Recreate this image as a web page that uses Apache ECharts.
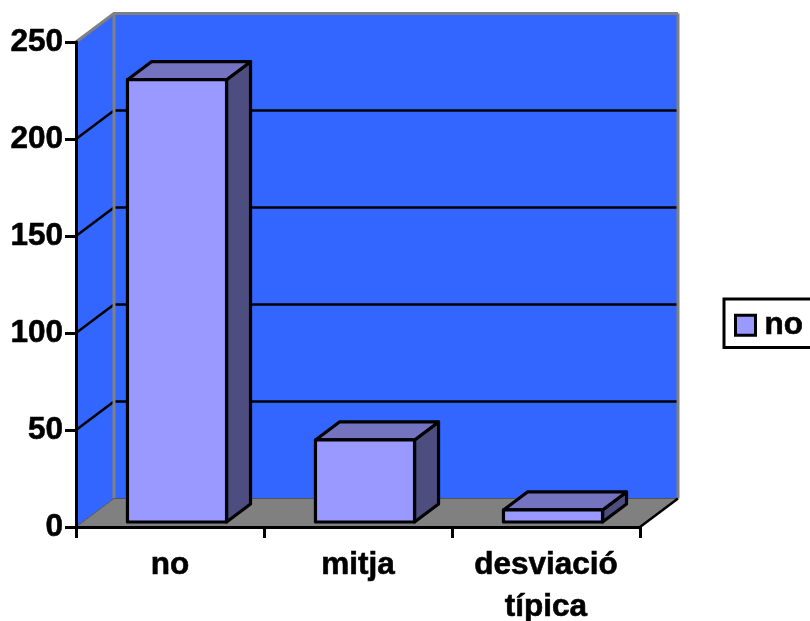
<!DOCTYPE html>
<html>
<head>
<meta charset="utf-8">
<style>html,body{margin:0;padding:0;background:#fff;overflow:hidden}#c{width:810px;height:621px}</style>
<script src="https://cdn.jsdelivr.net/npm/echarts@6/dist/echarts.min.js"></script>
</head>
<body>
<div id="c"></div>
<script>
const categories = ['no', 'mitja', 'desviació típica'];
const seriesName = 'no';
const values = [228, 42.3, 6.2];
const gridValues = [50, 100, 150, 200];
const axisMin = 0, axisMax = 250, axisStep = 50;

const DEPTH = [38, -28.5], BAR_FRONT = [7, -5], BAR_BACK = [31, -23], BAR_RATIO = 0.527;
const FONT = '"Liberation Sans", Arial, sans-serif';
const FS = 31.5;
const TEXT_EDGE = { textBorderColor: '#000', textBorderWidth: 0.6 };
const C = { wall: '#3366FF', floor: '#808080', edge: '#808080', front: '#9999FF', top: '#7373BF', side: '#4D4D80' };

const chart = echarts.init(document.getElementById('c'), null, { renderer: 'canvas' });
const line = (x1, y1, x2, y2, stroke, lineWidth) => ({
  type: 'line', shape: { x1, y1, x2, y2 }, style: { stroke, lineWidth, lineCap: 'butt' }, silent: true
});
const poly = (points, fill, stroke, lineWidth) => ({
  type: 'polygon', shape: { points }, style: { fill, stroke: stroke || null, lineWidth: lineWidth || 0, lineJoin: 'round' }, silent: true
});

function renderBackdrop(params, api) {
  const cs = params.coordSys;
  const x0 = cs.x, x1 = cs.x + cs.width;
  const yBottom = api.coord([0, axisMin])[1], yTop = api.coord([0, axisMax])[1];
  const [dx, dy] = DEPTH;
  const kids = [
    poly([[x0, yTop], [x0 + dx, yTop + dy], [x0 + dx, yBottom + dy], [x0, yBottom]], C.wall),
    poly([[x0 + dx, yTop + dy], [x1 + dx, yTop + dy], [x1 + dx, yBottom + dy], [x0 + dx, yBottom + dy]], C.wall),
    poly([[x0, yBottom], [x0 + dx, yBottom + dy], [x1 + dx, yBottom + dy], [x1, yBottom]], C.floor)
  ];
  gridValues.forEach(v => {
    const y = api.coord([0, v])[1];
    kids.push(line(x0, y, x0 + dx, y + dy, '#000', 2.5));
    kids.push(line(x0 + dx, y + dy, x1 + dx, y + dy, '#000', 2.5));
  });
  kids.push(line(x0, yTop, x0 + dx, yTop + dy, C.edge, 3));
  kids.push(line(x0 + dx - 1, yTop + dy, x1 + dx, yTop + dy, C.edge, 3));
  kids.push(line(x0 + dx, yTop + dy, x0 + dx, yBottom + dy, C.edge, 3));
  kids.push(line(x1 + dx, yTop + dy, x1 + dx, yBottom + dy, C.edge, 3));
  kids.push(line(x0 + dx, yBottom + dy, x1 + dx, yBottom + dy, '#555', 1));
  kids.push(line(x0, yBottom, x0 + dx, yBottom + dy, '#555', 1));
  kids.push(line(x1, yBottom, x1 + dx, yBottom + dy, '#000', 2.5));
  return { type: 'group', children: kids };
}

function renderBar(params, api) {
  const base = api.coord([api.value(0), axisMin]);
  const top = api.coord([api.value(0), api.value(1)]);
  const w = api.size([1, 0])[0] * BAR_RATIO;
  const l = base[0] + BAR_FRONT[0] - w / 2, r = l + w;
  const b = base[1] + BAR_FRONT[1], t = top[1] + BAR_FRONT[1];
  const ox = BAR_BACK[0] - BAR_FRONT[0], oy = BAR_BACK[1] - BAR_FRONT[1];
  return {
    type: 'group',
    children: [
      poly([[r, b], [r + ox, b + oy], [r + ox, t + oy], [r, t]], C.side, '#000', 3.2),
      poly([[l, t], [l + ox, t + oy], [r + ox, t + oy], [r, t]], C.top, '#000', 3.2),
      poly([[l, t], [r, t], [r, b], [l, b]], C.front, '#000', 3.2)
    ]
  };
}

chart.setOption({
  animation: false,
  backgroundColor: '#fff',
  grid: { left: 76, right: 170, top: 42, bottom: 94, containLabel: false, outerBoundsMode: 'none' },
  legend: {
    data: [{ name: seriesName, icon: 'rect', itemStyle: { color: C.front, borderColor: '#000', borderWidth: 3 } }],
    orient: 'vertical', left: 724, top: 299,
    padding: [10, 30, 6, 10],
    itemWidth: 20, itemHeight: 20, itemGap: 0,
    borderColor: '#000', borderWidth: 3, backgroundColor: '#fff',
    selectedMode: false,
    textStyle: { fontFamily: FONT, fontWeight: 'bold', fontSize: FS, color: '#000', padding: [5, 0, 0, 4], ...TEXT_EDGE }
  },
  xAxis: {
    type: 'category', data: categories, z: 5,
    axisLine: { lineStyle: { color: '#000', width: 3 } },
    axisTick: { show: true, length: 11, alignWithLabel: false, lineStyle: { color: '#000', width: 3 } },
    splitLine: { show: false },
    axisLabel: {
      interval: 0, margin: 17, color: '#000', fontFamily: FONT, fontWeight: 'bold', fontSize: FS, lineHeight: 42, ...TEXT_EDGE,
      formatter: s => s.replace(' ', '\n')
    }
  },
  yAxis: {
    type: 'value', min: axisMin, max: axisMax, interval: axisStep, z: 5,
    axisLine: { show: true, lineStyle: { color: '#000', width: 3 } },
    axisTick: { show: true, length: 11, lineStyle: { color: '#000', width: 3 } },
    splitLine: { show: false },
    axisLabel: { margin: 13, color: '#000', fontFamily: FONT, fontWeight: 'bold', fontSize: FS, ...TEXT_EDGE }
  },
  series: [
    { type: 'custom', name: 'fons', z: 1, silent: true, clip: false, renderItem: renderBackdrop, data: [[0, 0]], encode: { x: 0, y: 1 } },
    { type: 'custom', name: seriesName, z: 3, clip: false, renderItem: renderBar,
      data: values.map((v, i) => [i, v]), encode: { x: 0, y: 1 }, itemStyle: { color: C.front } }
  ]
});
</script>
</body>
</html>
